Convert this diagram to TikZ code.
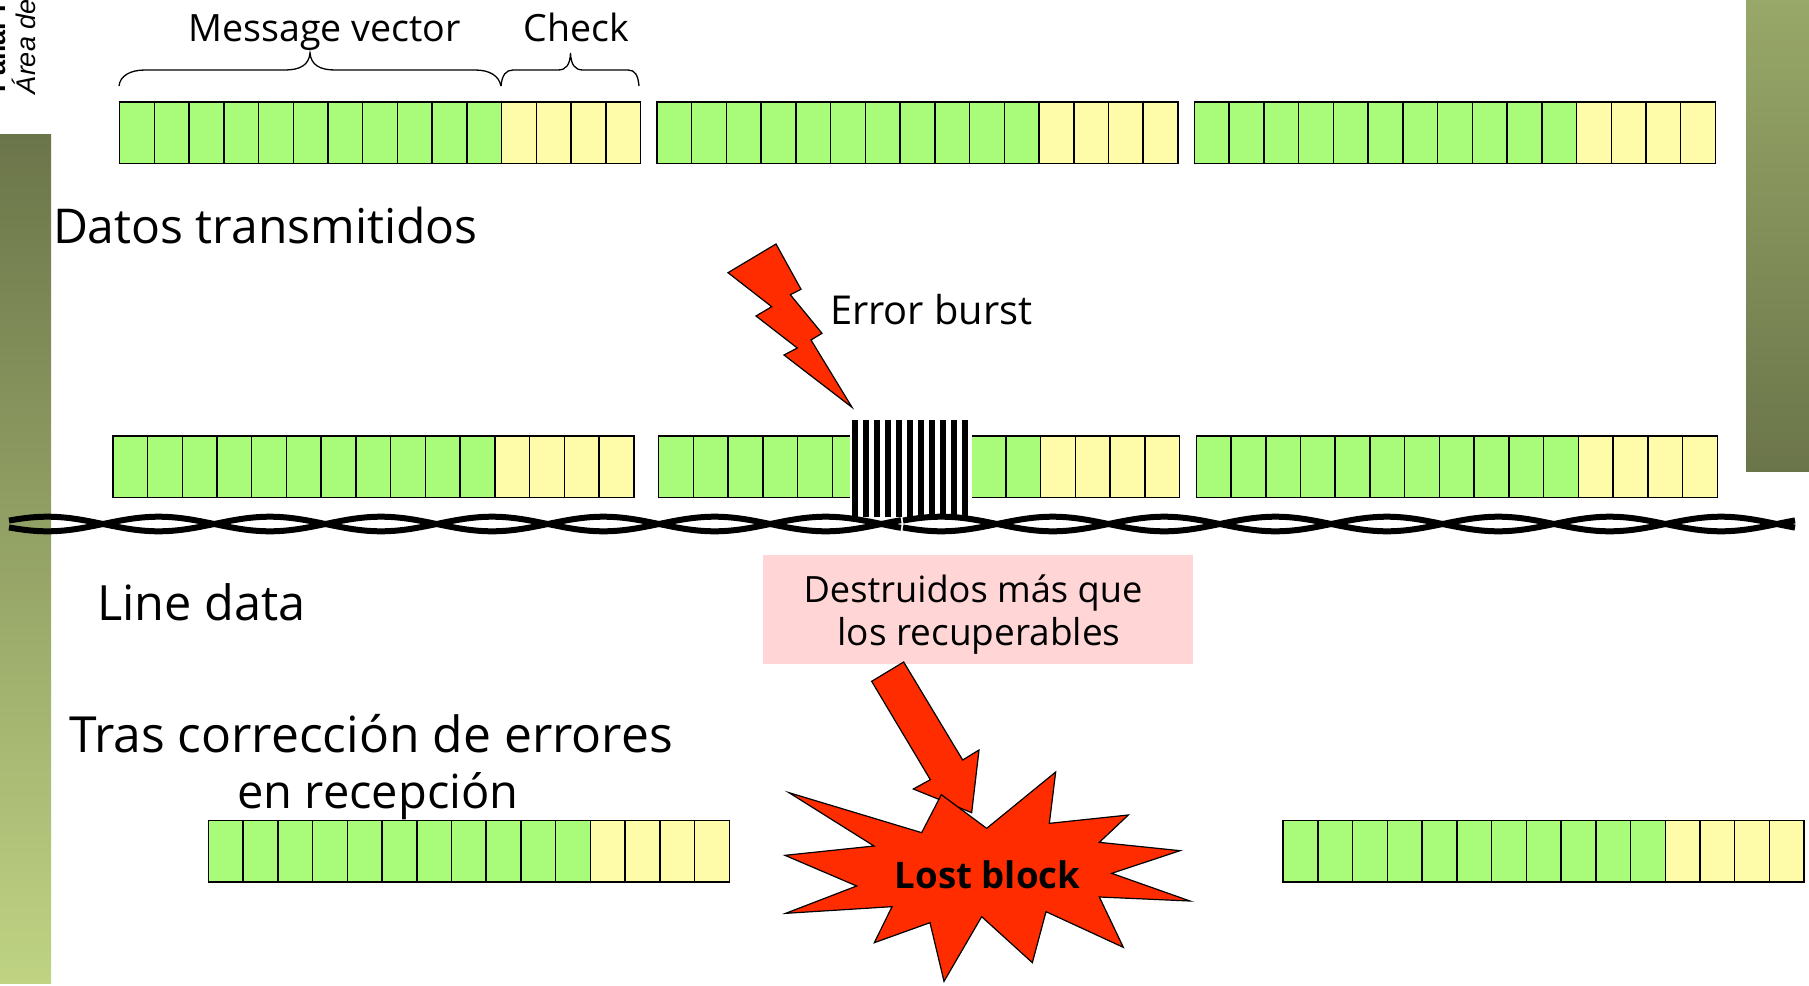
\documentclass[tikz,border=0pt]{standalone}
\usepackage{fontspec}
\setmainfont{Open Sans}
\newfontfamily\arialfont{Liberation Sans}
\definecolor{cellgreen}{HTML}{A9FC7A}
\definecolor{cellyellow}{HTML}{FFFCA9}
\definecolor{boltred}{HTML}{FF2C00}
\definecolor{pinkbox}{HTML}{FFD5D5}
\definecolor{bardark}{HTML}{6B754A}
\definecolor{barlight}{HTML}{BFD383}
\definecolor{barmid}{HTML}{98A868}
\newcommand{\fsz}[1]{\fontsize{#1pt}{#1pt}\selectfont}
\tikzset{
  cellg/.style={draw=black,fill=cellgreen,line width=1.5pt,minimum width=34.73pt,minimum height=61.5pt,inner sep=0pt,outer sep=0pt,anchor=north west},
  celly/.style={cellg,fill=cellyellow},
  lbl/.style={inner sep=0pt,outer sep=0pt,text=black,anchor=base},
  poly/.style={draw=black,fill=boltred,line width=1.2pt,line join=miter},
  strand/.style={draw=black,line width=6pt},
  bracel/.style={draw=black,line width=1.3pt},
}
\newcommand{\codeblock}[3]{% x, y, name prefix
  \foreach \i in {0,...,14}{
    \pgfmathsetmacro{\cx}{#1+34.73*\i}
    \ifnum\i<11
      \node[cellg] (#3\i) at (\cx,#2) {};
    \else
      \node[celly] (#3\i) at (\cx,#2) {};
    \fi
  }
}
\begin{document}
\begin{tikzpicture}[x=1pt,y=-1pt]
\useasboundingbox (0,0) rectangle (1809,985);
\begin{scope}
\clip (0,0) rectangle (1809,985);
% side bars
\path[shade,top color=bardark,bottom color=barlight,shading angle=0] (0,134) rectangle (51,983);
\path[shade,top color=barmid,bottom color=bardark,shading angle=0] (1746,0) rectangle (1809,471);
% corner text
\node[lbl,rotate=90,anchor=south west,font=\arialfont\bfseries\fsz{27}] (corner1) at (6,92) {Fallar I};
\node[lbl,rotate=90,anchor=south west,font=\arialfont\itshape\fsz{27}] (corner2) at (36,94) {Área de};
% row 1
\codeblock{119.6}{102}{a}
\codeblock{657}{102}{b}
\codeblock{1194.5}{102}{c}
% row 2
\codeblock{112.8}{436}{d}
\codeblock{658.6}{436}{e}
\codeblock{1196.3}{436}{f}
% row 3
\codeblock{208.4}{820.3}{g}
\codeblock{1283.2}{820.3}{h}
% braces
\draw[bracel] (119,86) .. controls (120,76) and (130,70) .. (145,70) -- (285,70) .. controls (300,70) and (309,65) .. (310,53) .. controls (311,65) and (320,70) .. (335,70) -- (475,70) .. controls (490,70) and (499,76) .. (501,86);
\draw[bracel] (501,86) .. controls (502,75) and (506,70) .. (513,70) -- (558,70) .. controls (566,70) and (570,65) .. (570.5,53) .. controls (571,65) and (575,70) .. (583,70) -- (628,70) .. controls (635,70) and (638,75) .. (639,86);
% burst
\fill[white] (850,430) rectangle (972,517);
\foreach \k in {0,...,10}{
  \fill[black] ({852+11*\k},420) rectangle ({857.5+11*\k},517);
}
% cable
\foreach \sgn in {1,-1}{
  \draw[strand] plot[domain=9:901,samples=260] (\x,{524+\sgn*7.3*sin((\x-103)/111.2*180)});
  \draw[strand] plot[domain=903:1795,samples=260] (\x,{524+\sgn*7.3*sin((\x-997)/111.4*180)});
}
% bolt
\draw[poly] (776,244) -- (801,289.3) -- (790.3,294.7) -- (822,333.3) -- (811,340) -- (852,407.3) -- (784,355) -- (797.3,348) -- (756,316) -- (771.7,306.7) -- (728,272.7) -- cycle;
% pink box
\fill[pinkbox] (763,555) rectangle (1193,663.5);
% arrow and star
\begin{scope}[shift={(740,640)},x=0.33333pt,y=-0.33333pt]
\draw[poly] (491,66) -- (668,360) -- (717,330) -- (695,518) -- (520,447) -- (571,419) -- (395,124) -- cycle;
\draw[poly] (147,458) -- (545,578) -- (604,464) -- (740,565) -- (947,396) -- (928,550) -- (1165,525) -- (1078,607) -- (1320,632) -- (1115,700) -- (1350,783) -- (1078,771) -- (1150,922) -- (918,815) -- (877,968) -- (725,830) -- (612,1024) -- (570,848) -- (403,908) -- (456,800) -- (137,820) -- (350,738) -- (135,646) -- (402,618) -- cycle;
\end{scope}
% texts
\node[lbl,font=\fsz{37.6}] (msg) at (324.5,41.7) {Message vector};
\node[lbl,font=\fsz{37.5}] (chk) at (576.5,41.7) {Check};
\node[lbl,font=\fsz{48},anchor=base west] (dat) at (53,243) {Datos transmitidos};
\node[lbl,font=\fsz{39.8},anchor=base west] (err) at (830,324) {Error burst};
\node[lbl,font=\fsz{48.6},anchor=base west] (lin) at (97,620) {Line data};
\node[lbl,font=\fsz{49.8}] (tra) at (371,752.5) {Tras corrección de errores};
\node[lbl,font=\fsz{47}] (enr) at (378,808) {en recepción};
\node[lbl,font=\fsz{36.2}] (des) at (973,602.5) {Destruidos más que};
\node[lbl,font=\fsz{37}] (los) at (979,645) {los recuperables};
\node[lbl,font=\bfseries\fsz{36.6}] (lost) at (987.5,888) {Lost block};
\end{scope}
\end{tikzpicture}
\end{document}
